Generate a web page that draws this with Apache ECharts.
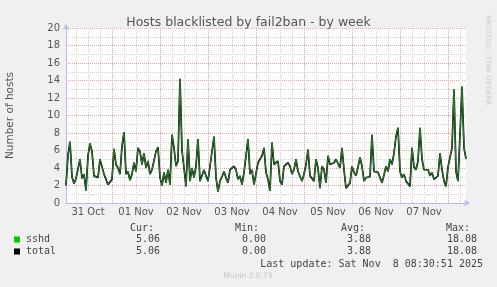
<!DOCTYPE html>
<html><head><meta charset="utf-8">
<script src="https://cdn.jsdelivr.net/npm/echarts@6/dist/echarts.min.js"></script>
<style>html,body{margin:0;padding:0;background:#f0f0f0;}#c{width:497px;height:287px;}</style>
</head><body><div id="c"></div>
<script>
const chartTitle = 'Hosts blacklisted by fail2ban - by week';
const yName = 'Number of hosts';
const dayLabels = ['31 Oct','01 Nov','02 Nov','03 Nov','04 Nov','05 Nov','06 Nov','07 Nov'];
const yTicks = [0,2,4,6,8,10,12,14,16,18,20];
// hourly samples, first one 31 Oct 01:00 (UTC-free label math)
const startTime = Date.UTC(2025, 9, 31, 1, 0, 0);
const sshd = [
 2.0,5.5,7.0,3.0,2.2,2.8,2.6,5.0,2.8,3.3, 1.4,5.4,6.8,5.9,3.1,3.3,2.9,5.0,4.8,3.3,
 3.2,2.1,2.3,2.7,6.2,4.4,4.0,3.3,6.5,8.1, 3.3,3.6,2.6,3.3,4.6,3.6,6.3,5.9,4.4,5.7,
 4.0,4.8,3.3,3.8,3.6,5.9,6.4,2.9,2.0,3.5, 2.3,3.8,2.1,7.8,6.3,4.2,4.8,14.2,6.0,4.0,
 1.9,7.3,2.5,4.0,2.9,4.2,7.3,2.5,2.7,3.8, 3.1,2.5,4.2,4.0,7.6,2.9,1.3,2.5,3.0,3.6,
 2.9,2.3,3.8,3.8,4.2,3.8,2.7,3.1,2.1,3.5, 5.4,7.3,3.3,3.8,2.1,2.3,4.6,4.4,5.4,6.3,
 3.5,2.7,1.4,6.9,4.4,4.4,4.8,2.5,2.1,4.2, 4.4,4.6,4.2,3.3,3.8,5.0,3.6,3.6,2.5,3.3,
 4.4,6.1,3.1,3.1,2.5,5.0,4.0,1.7,4.2,3.8, 2.3,5.4,4.4,4.6,4.6,5.0,5.0,4.0,6.3,3.8,
 1.7,1.6,2.3,4.2,3.5,3.1,4.1,5.2,4.2,2.5, 2.9,3.0,3.0,7.8,3.6,3.6,3.5,3.3,2.3,3.2,
 4.2,3.6,5.0,4.4,5.7,7.6,8.6,3.6,2.9,3.3, 2.5,2.7,1.9,6.3,4.1,3.8,4.8,8.6,5.0,3.8,
 4.0,3.8,3.1,3.5,2.7,2.7,3.1,5.7,3.8,2.5, 1.9,4.1,4.0,6.3,13.0,3.6,2.5,7.8,13.3,6.3,
 5.06
];
// total = sum of all jails (only sshd here)
const total = sshd.map(v => v);
const legendNames = ['sshd','total'];
const legendColors = ['#00cc00','#000000'];
const statHeaders = ['Cur:','Min:','Avg:','Max:'];
const sshdStats = ['5.06','0.00','3.88','18.08'];
const totalStats = ['5.06','0.00','3.88','18.08'];
const lastUpdate = 'Last update: Sat Nov  8 08:30:51 2025';
const footer = 'Munin 2.0.73';
const sideText = 'RRDTOOL / TOBI OETIKER';

const categories = sshd.map((_, i) => startTime + i * 3600000);
const hourOf = t => new Date(t).getUTCHours();
const dayIdx = t => Math.floor((t - Date.UTC(2025, 9, 31)) / 86400000);

const mono = 'DejaVu Sans Mono';
const sans = 'DejaVu Sans';
const txtCol = '#555';
const legCol = '#444';
const headerRight = [154, 259, 365, 470];
const valueRight = [160, 266, 371, 477];

const graphics = [];
statHeaders.forEach((h, k) => graphics.push({type:'text', x: headerRight[k], y: 228,
  style:{text:h, font:'10px ' + mono, fill:legCol, textAlign:'right', textVerticalAlign:'middle'}}));
[sshdStats, totalStats].forEach((row, r) => {
  const y = 239.5 + r * 12;
  graphics.push({type:'rect', shape:{x:14, y:y-3, width:6, height:6}, style:{fill:legendColors[r]}});
  graphics.push({type:'text', x:26, y:y, style:{text:legendNames[r], font:'10px ' + mono, fill:legCol, textVerticalAlign:'middle'}});
  row.forEach((v, k) => graphics.push({type:'text', x:valueRight[k], y:y,
    style:{text:v, font:'10px ' + mono, fill:legCol, textAlign:'right', textVerticalAlign:'middle'}}));
});
graphics.push({type:'text', x:483, y:264, style:{text:lastUpdate, font:'10px ' + mono, fill:legCol, textAlign:'right', textVerticalAlign:'middle'}});
graphics.push({type:'text', x:248, y:276, style:{text:footer, font:'7.5px ' + sans, fill:'#c4c4c4', textAlign:'center', textVerticalAlign:'middle'}});
graphics.push({type:'text', x:487.5, y:15, rotation:-Math.PI/2, style:{text:sideText, font:'7px ' + sans, fill:'#cccccc', textAlign:'left', textVerticalAlign:'middle'}});

const axisBlue = '#b8b8ee';
const chart = echarts.init(document.getElementById('c'), null, {renderer:'canvas'});
chart.setOption({
  animation:false,
  backgroundColor:'#f0f0f0',
  title:{text:chartTitle, left:'center', top:11, textStyle:{fontSize:12.5, fontWeight:'normal', color:txtCol, fontFamily:sans}},
  grid:{left:66, top:28, width:400, height:175, show:true, backgroundColor:'#ffffff', borderWidth:0,
    containLabel:false, outerBoundsMode:'none'},
  xAxis:[{
    type:'category', data:categories, boundaryGap:false,
    axisLine:{show:true, lineStyle:{color:axisBlue, width:1}, symbol:['none','arrow'], symbolSize:[5,6], symbolOffset:[0,4]},
    axisTick:{show:false},
    axisLabel:{interval:(i, v) => hourOf(+v) === 12, formatter:v => dayLabels[dayIdx(+v)] || '',
      fontSize:10, color:txtCol, fontFamily:sans, margin:4},
    splitLine:{show:true, interval:(i, v) => hourOf(+v) % 6 === 0 && hourOf(+v) !== 0,
      lineStyle:{color:'#d2d2d2', width:1, type:[1,1]}}
  },{
    type:'category', data:categories, boundaryGap:false, gridIndex:0,
    axisLine:{show:false}, axisTick:{show:false}, axisLabel:{show:false},
    splitLine:{show:true, interval:(i, v) => hourOf(+v) === 0,
      lineStyle:{color:'#eca0a0', width:1, type:[1,1]}}
  }],
  yAxis:{
    type:'value', min:0, max:20, interval:1,
    name:yName, nameLocation:'middle', nameRotate:90, nameGap:50,
    nameTextStyle:{fontSize:10.5, color:txtCol, fontFamily:sans},
    axisLine:{show:true, lineStyle:{color:axisBlue, width:1}, symbol:['none','arrow'], symbolSize:[5,6], symbolOffset:[0,4]},
    axisTick:{show:false},
    axisLabel:{formatter:v => yTicks.indexOf(v) >= 0 ? String(v) : '', fontSize:10, color:txtCol, fontFamily:sans, margin:6},
    splitLine:{show:true, lineStyle:{color:['#eca0a0','#d2d2d2'], width:1, type:[1,1]}}
  },
  series:[
    {name:'total', type:'line', data:total, showSymbol:false, lineStyle:{color:'#000000', width:1.7}, z:2},
    {name:'sshd', type:'line', data:sshd, showSymbol:false, lineStyle:{color:'#2f8f2f', width:0.9}, z:3}
  ],
  graphic:graphics
});
</script></body></html>
